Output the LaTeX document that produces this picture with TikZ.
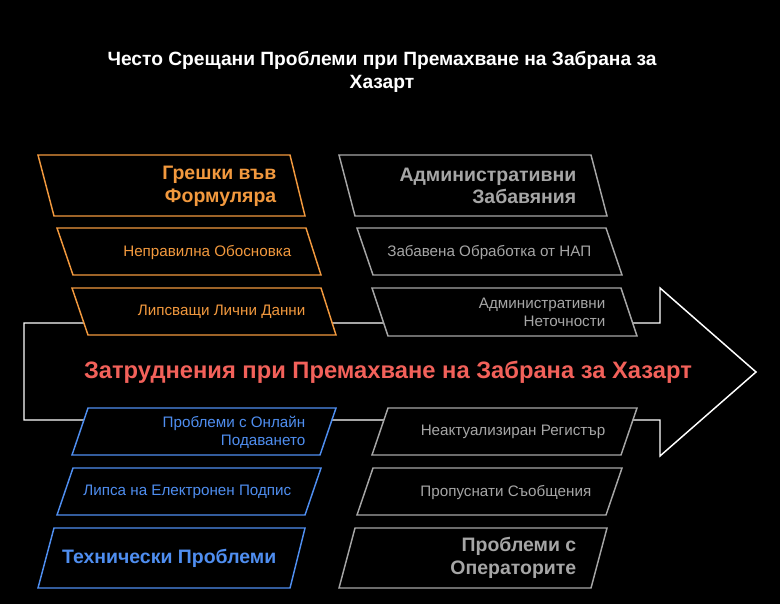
\documentclass[tikz,border=0pt]{standalone}
\usepackage{fontspec}
\setmainfont{Liberation Sans}
\usetikzlibrary{positioning}
\definecolor{orng}{HTML}{F2993E}
\definecolor{gry}{HTML}{A6A6A6}
\definecolor{blu}{HTML}{4F8EF0}
\definecolor{rd}{HTML}{F2615A}
% parallelogram: #1 colour, #2 x top left, #3 x top right, #4 y top, #5 x bottom right, #6 x bottom left, #7 y bottom
\newcommand{\slantbox}[7]{\draw[#1, line width=1.1pt, fill=black] (#2,#4) -- (#3,#4) -- (#5,#7) -- (#6,#7) -- cycle;}
\begin{document}
\begin{tikzpicture}[x=0.75pt,y=-0.75pt,
  lbl/.style={align=right, anchor=east, font=\fontsize{11.4}{13.5}\selectfont},
  head/.style={align=right, anchor=east, font=\bfseries\fontsize{14.6}{17}\selectfont}]
\fill[black] (0,0) rectangle (780,604);
\useasboundingbox (0,0) rectangle (780,604);

\node[font=\bfseries\fontsize{14.4}{17}\selectfont, white, align=center] (title) at (382,72)
  {Често Срещани Проблеми при Премахване на Забрана за\\Хазарт};

% big arrow
\draw[white, line width=1.1pt, fill=black] (24,323) -- (660,323) -- (660,288) -- (756,372)
  -- (660,456) -- (660,420) -- (24,420) -- cycle;
\node[font=\bfseries\fontsize{17.8}{20}\selectfont, rd] (main) at (388,372)
  {Затруднения при Премахване на Забрана за Хазарт};

% top left
\slantbox{orng}{38}{290}{155}{305}{54}{216}
\node[head, orng] (g1) at (281,186) {Грешки във\\Формуляра};
\slantbox{orng}{57}{306}{228}{321}{73}{275}
\node[lbl, orng] (g2) at (296,252) {Неправилна Обосновка};
\slantbox{orng}{72}{321}{288}{336}{88}{335}
\node[lbl, orng] (g3) at (310,312) {Липсващи Лични Данни};

% top right
\slantbox{gry}{339}{591}{155}{607}{355}{216}
\node[head, gry] (a1) at (581,186) {Административни\\Забавяния};
\slantbox{gry}{357}{606}{228}{622}{373}{275}
\node[lbl, gry] (a2) at (596,252) {Забавена Обработка от НАП};
\slantbox{gry}{372}{621}{288}{637}{388}{336}
\node[lbl, gry] (a3) at (610,312) {Административни\\Неточности};

% bottom left
\slantbox{blu}{88}{336}{408}{320}{72}{455}
\node[lbl, blu] (t1) at (310,432) {Проблеми с Онлайн\\Подаването};
\slantbox{blu}{73}{321}{468}{305}{57}{515}
\node[lbl, blu] (t2) at (296,492) {Липса на Електронен Подпис};
\slantbox{blu}{54}{305}{528}{290}{38}{588}
\node[head, blu] (t3) at (281,558) {Технически Проблеми};

% bottom right
\slantbox{gry}{388}{637}{408}{621}{372}{455}
\node[lbl, gry] (o1) at (610,432) {Неактуализиран Регистър};
\slantbox{gry}{373}{622}{468}{606}{357}{515}
\node[lbl, gry] (o2) at (596,492) {Пропуснати Съобщения};
\slantbox{gry}{355}{607}{528}{591}{339}{588}
\node[head, gry] (o3) at (581,558) {Проблеми с\\Операторите};
\end{tikzpicture}
\end{document}
